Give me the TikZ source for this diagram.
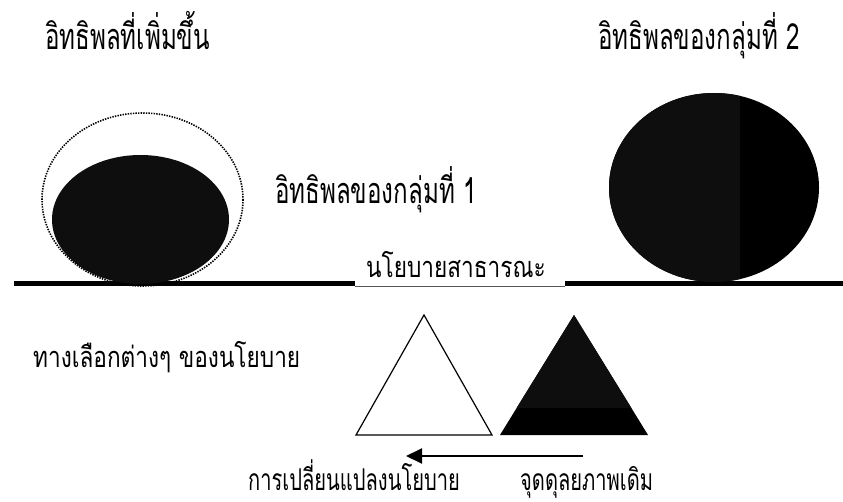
\documentclass[tikz,border=0pt]{standalone}
\usepackage{fontspec}
\newfontfamily\thaititle[Script=Thai,FakeStretch=0.67]{Loma}
\newfontfamily\thaismall[Script=Thai,FakeStretch=0.78]{Loma}
\usetikzlibrary{arrows.meta}
\definecolor{ink}{HTML}{0E0E0E}
\definecolor{thinrule}{HTML}{555555}
\begin{document}
\begin{tikzpicture}[x=1pt,y=-1pt,
  bigtext/.style={font=\thaititle\fontsize{36}{40}\selectfont, inner sep=0pt, anchor=base west},
  midtext/.style={font=\thaititle\fontsize{30}{34}\selectfont, inner sep=0pt, anchor=base west},
  smalltext/.style={font=\thaismall\fontsize{29}{33}\selectfont, inner sep=0pt, anchor=base west},
  beam/.style={line width=5pt},
  flowarrow/.style={line width=2pt, -{Triangle[length=16pt,width=15pt]}}]
\useasboundingbox[fill=white] (0,0) rectangle (843,502);

% beam
\coordinate (beamL) at (14,284);
\coordinate (gapL) at (355,284);
\coordinate (gapR) at (565,284);
\coordinate (beamR) at (843,284);
\draw[beam] (beamL) -- (gapL);
\draw[beam] (gapR) -- (beamR);
\draw[thinrule, line width=1pt] (355,286.5) -- (565,286.5);

% left: dotted enlarged influence and group 1
\draw[dash pattern=on 1.4pt off 1.2pt, line width=1.6pt] (142.5,199.5) ellipse [x radius=100.5, y radius=86.5];
\fill[ink] (140.5,219.5) ellipse [x radius=88.5, y radius=64.5];

% right: group 2
\fill[black] (714,187.5) ellipse [x radius=105, y radius=94.5];
\begin{scope}
  \clip (0,0) rectangle (740,407);
  \fill[ink] (714,187.5) ellipse [x radius=105, y radius=94.5];
\end{scope}

% triangles
\draw[line width=1.2pt, fill=white] (356,435) -- (424,315) -- (492,435) -- cycle;
\fill[black] (500,435) -- (574,315) -- (648,435) -- cycle;
\begin{scope}
  \clip (0,0) rectangle (740,407);
  \fill[ink] (500,435) -- (574,315) -- (648,435) -- cycle;
\end{scope}

% arrow
\coordinate (arrowStart) at (583,456);
\coordinate (arrowEnd) at (406,456);
\draw[flowarrow] (arrowStart) -- (arrowEnd);

% texts
\node[bigtext] (tIncrease) at (45,50) {อิทธิพลที่เพิ่มขึ้น};
\node[bigtext] (tGroupTwo) at (598,50) {อิทธิพลของกลุ่มที่ 2};
\node[bigtext] (tGroupOne) at (275,204) {อิทธิพลของกลุ่มที่ 1};
\node[smalltext] (tPublic) at (366,278) {นโยบายสาธารณะ};
\node[smalltext] (tOptions) at (33,367) {ทางเลือกต่างๆ ของนโยบาย};
\node[midtext] (tChange) at (248,490) {การเปลี่ยนแปลงนโยบาย};
\node[midtext] (tEquil) at (520,490) {จุดดุลยภาพเดิม};
\end{tikzpicture}
\end{document}
